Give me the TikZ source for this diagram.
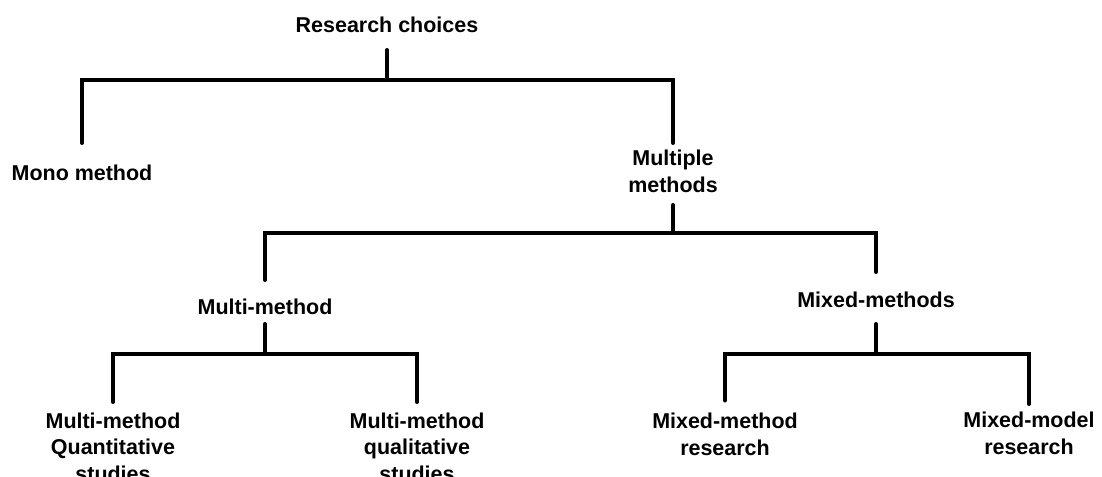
\documentclass[tikz,border=0pt]{standalone}
\usepackage{fontspec}
\setmainfont{Liberation Sans}
\usetikzlibrary{calc}
\begin{document}
\begin{tikzpicture}[x=0.75pt,y=-0.75pt,
  lbl/.style={font=\bfseries\fontsize{16.1}{20}\selectfont, align=center, inner sep=0pt},
  branch/.style={line width=3pt, line cap=round, line join=miter}]
\useasboundingbox (0,0) rectangle (1102,477);

% labels
\node[lbl] (root)     at (387,25)    {Research choices};
\node[lbl] (mono)     at (82,173)    {Mono method};
\node[lbl] (multiple) at (673,171.5) {Multiple\\methods};
\node[lbl] (multi)    at (265,307)   {Multi-method};
\node[lbl] (mixed)    at (876,300)   {Mixed-methods};
\node[lbl] (quant)    at (113,447)   {Multi-method\\Quantitative\\studies};
\node[lbl] (qual)     at (417,447)   {Multi-method\\qualitative\\studies};
\node[lbl] (mmr)      at (725,434.5) {Mixed-method\\research};
\node[lbl] (mmod)     at (1029,433)  {Mixed-model\\research};

% research choices -> mono / multiple
\draw[branch] ($(root)+(0,25)$) -- ($(root)+(0,55)$);
\draw[branch] ($(mono)+(0,-30)$) |- ($(multiple)+(0,-91.5)$) -- ($(multiple)+(0,-28.5)$);

% multiple methods -> multi-method / mixed-methods
\draw[branch] ($(multiple)+(0,33.5)$) -- ($(multiple)+(0,61.5)$);
\draw[branch] ($(multi)+(0,-27)$) |- ($(mixed)+(0,-67)$) -- ($(mixed)+(0,-28)$);

% multi-method -> quantitative / qualitative
\draw[branch] ($(multi)+(0,17)$) -- ($(multi)+(0,47)$);
\draw[branch] ($(quant)+(0,-45)$) |- ($(qual)+(0,-93)$) -- ($(qual)+(0,-45)$);

% mixed-methods -> mixed-method / mixed-model
\draw[branch] ($(mixed)+(0,24)$) -- ($(mixed)+(0,54)$);
\draw[branch] ($(mmr)+(0,-34)$) |- ($(mmod)+(0,-79)$) -- ($(mmod)+(0,-29)$);
\end{tikzpicture}
\end{document}
